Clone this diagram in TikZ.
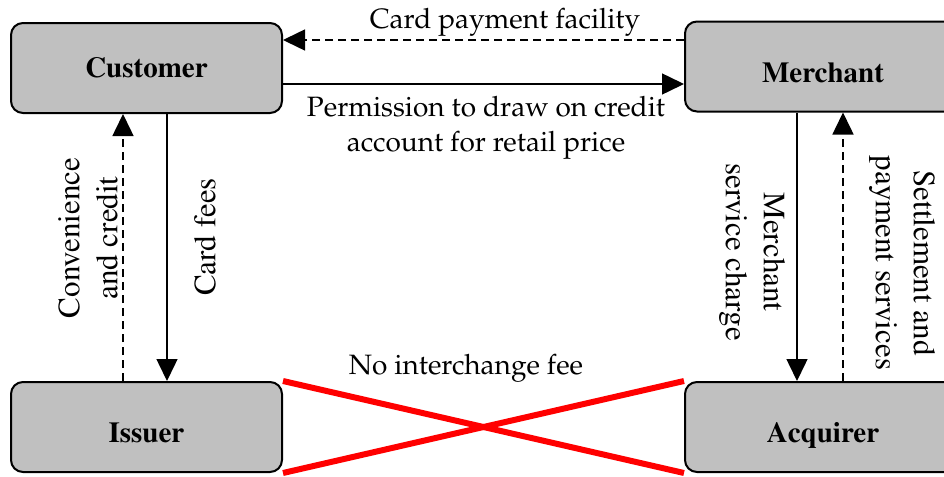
\documentclass[tikz,border=0pt]{standalone}
\usepackage[T1]{fontenc}
\renewcommand\rmdefault{ptm}
\usetikzlibrary{arrows.meta}
\newcommand\palfont{\fontfamily{ppl}\selectfont\fontsize{14}{17.5}\selectfont}
\newcommand\timesfont{\fontfamily{ptm}\selectfont\fontsize{15.5}{19}\selectfont}
\newcommand\lowered[1]{\raisebox{-3pt}[\height][0pt]{#1}}
\tikzset{
  party/.style={draw=black, line width=1pt, fill=boxgray, rounded corners=6pt,
    minimum width=135.5pt, minimum height=45pt, inner sep=0pt,
    font=\fontfamily{ptm}\fontseries{b}\selectfont\fontsize{14.5}{17}\selectfont},
  flow/.style={line width=0.75pt, -{Triangle[length=11pt,width=10.5pt]}},
  dflow/.style={flow, dash pattern=on 4pt off 2.5pt},
  lbl/.style={inner sep=0pt, align=center},
  nofee/.style={draw=red, line width=3pt}
}
\definecolor{boxgray}{HTML}{C0C0C0}
\begin{document}
\begin{tikzpicture}[x=0.5pt,y=-0.5pt]
\clip (0,0) rectangle (944,477);
\fill[white] (0,0) rectangle (944,477);
\node[party] (cust) at (146.5,68) {Customer};
\node[party, minimum width=138pt] (merch) at (823,66.5) {\lowered{Merchant}};
\node[party] (iss) at (146.5,427) {\lowered{Issuer}};
\node[party, minimum width=138pt] (acq) at (823,427) {\lowered{Acquirer}};

% top arrows
\draw[dflow] (merch.west |- 0,40) -- (cust.east |- 0,40);
\draw[flow] (cust.east |- 0,84) -- (merch.west |- 0,84);
\node[lbl, font=\palfont] (lcard) at (505,22) {Card payment facility};
\node[lbl, font=\palfont] (lperm) at (486,128) {Permission to draw on credit\\[0pt]account for retail price};

% left arrows
\draw[flow] (cust.south -| 167,0) -- (iss.north -| 167,0);
\draw[dflow] (iss.north -| 123,0) -- (cust.south -| 123,0);
\node[lbl, font=\timesfont, rotate=90] (lconv) at (88,238) {Convenience\\and credit};
\node[lbl, font=\timesfont, rotate=90] (lfees) at (205,237) {Card fees};

% right arrows
\draw[flow] (merch.south -| 797,0) -- (acq.north -| 797,0);
\draw[dflow] (acq.north -| 843,0) -- (merch.south -| 843,0);
\node[lbl, font=\timesfont, rotate=-90] (lmsc) at (752,252) {Merchant\\service charge};
\node[lbl, font=\timesfont, rotate=-90] (lset) at (902,263) {Settlement and\\payment services};

% no interchange fee
\draw[nofee] (iss.north east) -- (acq.south west);
\draw[nofee] (iss.south east) -- (acq.north west);
\node[lbl, font=\palfont] (lnofee) at (466,368) {No interchange fee};
\end{tikzpicture}
\end{document}
